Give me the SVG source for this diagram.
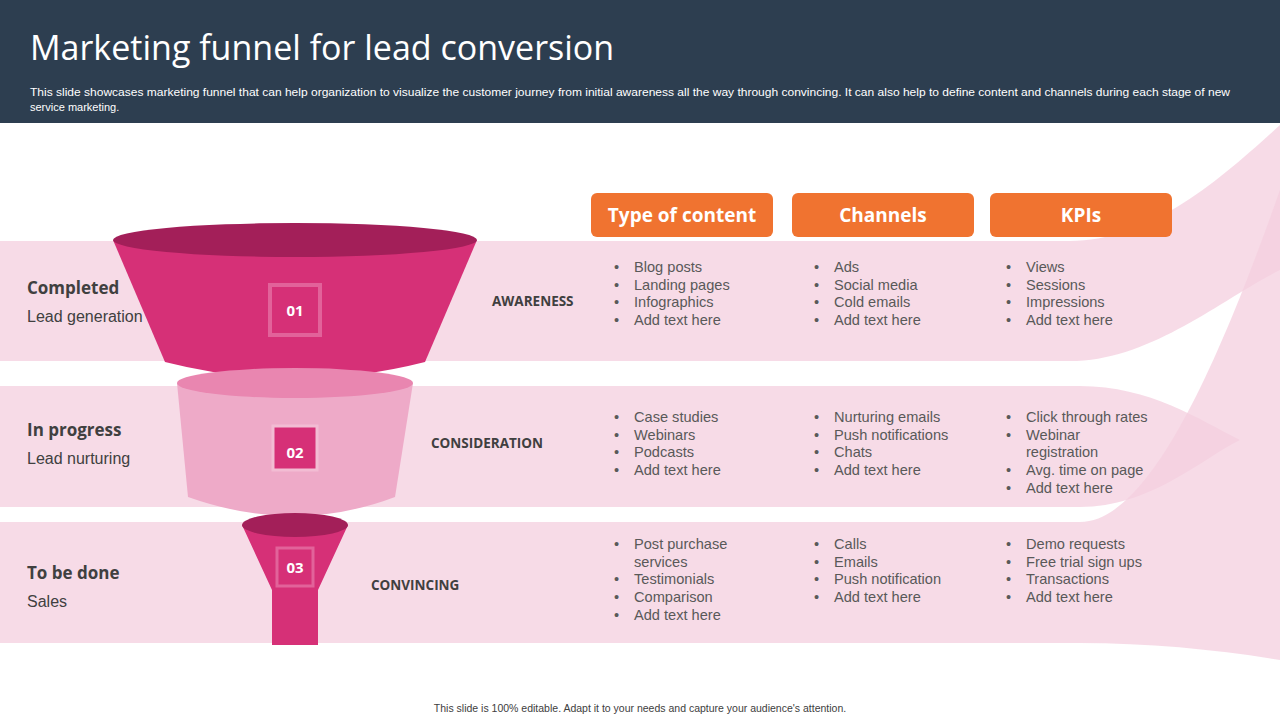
<svg xmlns="http://www.w3.org/2000/svg" width="1280" height="720" viewBox="0 0 1280 720">
<style>
.b{font-family:"Liberation Sans",Arial,sans-serif;font-size:14.6px;fill:#595959}
.h{font-family:"Open Sans","Liberation Sans",sans-serif;font-weight:bold;font-size:19px;fill:#fff;text-anchor:middle}
.st{font-family:"Open Sans","Liberation Sans",sans-serif;font-weight:bold;font-size:17px;fill:#404040}
.sb{font-family:"Liberation Sans",Arial,sans-serif;font-size:16px;fill:#404040}
.lab{font-family:"Open Sans","Liberation Sans",sans-serif;font-weight:bold;font-size:13.5px;fill:#404040}
.num{font-family:"Open Sans","Liberation Sans",sans-serif;font-weight:bold;font-size:15px;fill:#fff;text-anchor:middle}
.band{fill:#f4cfdf;opacity:0.75}
</style>
<rect width="1280" height="720" fill="#fff"/>
<rect width="1280" height="123" fill="#2d3e50"/>
<text x="30" y="60" font-family="Open Sans, Liberation Sans, sans-serif" font-size="34" fill="#fff">Marketing funnel for lead conversion</text>
<text font-family="Liberation Sans, Arial, sans-serif" font-size="11" fill="#fff"><tspan x="30" y="96" textLength="1200" lengthAdjust="spacingAndGlyphs">This slide showcases marketing funnel that can help organization to visualize the customer journey from initial awareness all the way through convincing. It can also help to define content and channels during each stage of new</tspan><tspan x="30" y="111">service marketing.</tspan></text>
<g id="bands">
<path class="band" d="M0,241 H1070 C1150,241 1220,180 1280,125 V270 C1220,300 1150,361 1070,361 H0 Z"/>
<path class="band" d="M0,386 H1080 C1150,386 1200,420 1240,440 C1200,460 1150,507 1080,507 H0 Z"/>
<path class="band" d="M0,522 H1080 C1150,522 1220,360 1280,190 V660 C1220,650 1150,643 1080,643 H0 Z"/>
</g>
<g id="funnel1">
<path d="M113,240 L477,240 L425,362 Q295,395 165,362 Z" fill="#d63077"/>
<ellipse cx="295" cy="240" rx="182" ry="17" fill="#a31f59"/>
<rect x="270" y="285" width="50" height="50" fill="#d63077" stroke="#e2629a" stroke-width="4"/>
<text class="num" x="295" y="316">01</text>
</g>
<g id="funnel2">
<path d="M177,383 L413,383 L395,497 Q295,535 188,497 Z" fill="#eeaac8"/>
<ellipse cx="295" cy="383" rx="118" ry="15" fill="#e986b0"/>
<rect x="273" y="426" width="44" height="44" fill="#d63077" stroke="#f2bcd3" stroke-width="3"/>
<text class="num" x="295" y="458">02</text>
</g>
<g id="funnel3">
<path d="M242,525 L348,525 L318,590 V645 H272 V590 Z" fill="#d63077"/>
<ellipse cx="295" cy="525" rx="53" ry="12" fill="#a31f59"/>
<rect x="277" y="548" width="36" height="38" fill="#d63077" stroke="#e2629a" stroke-width="3"/>
<text class="num" x="295" y="573">03</text>
</g>
<g id="left-labels">
<text class="st" x="27" y="294">Completed</text><text class="sb" x="27" y="322">Lead generation</text>
<text class="st" x="27" y="436">In progress</text><text class="sb" x="27" y="464">Lead nurturing</text>
<text class="st" x="27" y="579">To be done</text><text class="sb" x="27" y="607">Sales</text>
<text class="lab" x="492" y="306">AWARENESS</text>
<text class="lab" x="431" y="448">CONSIDERATION</text>
<text class="lab" x="371" y="590">CONVINCING</text>
</g>
<g id="headers">
<rect x="591" y="193" width="182" height="44" rx="6" fill="#f07330"/><text class="h" x="682" y="222">Type of content</text>
<rect x="792" y="193" width="182" height="44" rx="6" fill="#f07330"/><text class="h" x="883" y="222">Channels</text>
<rect x="990" y="193" width="182" height="44" rx="6" fill="#f07330"/><text class="h" x="1081" y="222">KPIs</text>
</g>
<g id="content">
<text class="b"><tspan x="614" y="272">•</tspan><tspan x="614" y="290">•</tspan><tspan x="614" y="307">•</tspan><tspan x="614" y="325">•</tspan></text>
<text class="b"><tspan x="634" y="272">Blog posts</tspan><tspan x="634" y="290">Landing pages</tspan><tspan x="634" y="307">Infographics</tspan><tspan x="634" y="325">Add text here</tspan></text>
<text class="b"><tspan x="814" y="272">•</tspan><tspan x="814" y="290">•</tspan><tspan x="814" y="307">•</tspan><tspan x="814" y="325">•</tspan></text>
<text class="b"><tspan x="834" y="272">Ads</tspan><tspan x="834" y="290">Social media</tspan><tspan x="834" y="307">Cold emails</tspan><tspan x="834" y="325">Add text here</tspan></text>
<text class="b"><tspan x="1006" y="272">•</tspan><tspan x="1006" y="290">•</tspan><tspan x="1006" y="307">•</tspan><tspan x="1006" y="325">•</tspan></text>
<text class="b"><tspan x="1026" y="272">Views</tspan><tspan x="1026" y="290">Sessions</tspan><tspan x="1026" y="307">Impressions</tspan><tspan x="1026" y="325">Add text here</tspan></text>

<text class="b"><tspan x="614" y="422">•</tspan><tspan x="614" y="440">•</tspan><tspan x="614" y="457">•</tspan><tspan x="614" y="475">•</tspan></text>
<text class="b"><tspan x="634" y="422">Case studies</tspan><tspan x="634" y="440">Webinars</tspan><tspan x="634" y="457">Podcasts</tspan><tspan x="634" y="475">Add text here</tspan></text>
<text class="b"><tspan x="814" y="422">•</tspan><tspan x="814" y="440">•</tspan><tspan x="814" y="457">•</tspan><tspan x="814" y="475">•</tspan></text>
<text class="b"><tspan x="834" y="422">Nurturing emails</tspan><tspan x="834" y="440">Push notifications</tspan><tspan x="834" y="457">Chats</tspan><tspan x="834" y="475">Add text here</tspan></text>
<text class="b"><tspan x="1006" y="422">•</tspan><tspan x="1006" y="440">•</tspan><tspan x="1006" y="475">•</tspan><tspan x="1006" y="493">•</tspan></text>
<text class="b"><tspan x="1026" y="422">Click through rates</tspan><tspan x="1026" y="440">Webinar</tspan><tspan x="1026" y="457">registration</tspan><tspan x="1026" y="475">Avg. time on page</tspan><tspan x="1026" y="493">Add text here</tspan></text>

<text class="b"><tspan x="614" y="549">•</tspan><tspan x="614" y="584">•</tspan><tspan x="614" y="602">•</tspan><tspan x="614" y="620">•</tspan></text>
<text class="b"><tspan x="634" y="549">Post purchase</tspan><tspan x="634" y="567">services</tspan><tspan x="634" y="584">Testimonials</tspan><tspan x="634" y="602">Comparison</tspan><tspan x="634" y="620">Add text here</tspan></text>
<text class="b"><tspan x="814" y="549">•</tspan><tspan x="814" y="567">•</tspan><tspan x="814" y="584">•</tspan><tspan x="814" y="602">•</tspan></text>
<text class="b"><tspan x="834" y="549">Calls</tspan><tspan x="834" y="567">Emails</tspan><tspan x="834" y="584">Push notification</tspan><tspan x="834" y="602">Add text here</tspan></text>
<text class="b"><tspan x="1006" y="549">•</tspan><tspan x="1006" y="567">•</tspan><tspan x="1006" y="584">•</tspan><tspan x="1006" y="602">•</tspan></text>
<text class="b"><tspan x="1026" y="549">Demo requests</tspan><tspan x="1026" y="567">Free trial sign ups</tspan><tspan x="1026" y="584">Transactions</tspan><tspan x="1026" y="602">Add text here</tspan></text>
</g>
<text x="640" y="712" text-anchor="middle" font-family="Liberation Sans, Arial, sans-serif" font-size="10.5" fill="#404040">This slide is 100% editable.  Adapt it to your needs and capture your audience's attention.</text>
</svg>
